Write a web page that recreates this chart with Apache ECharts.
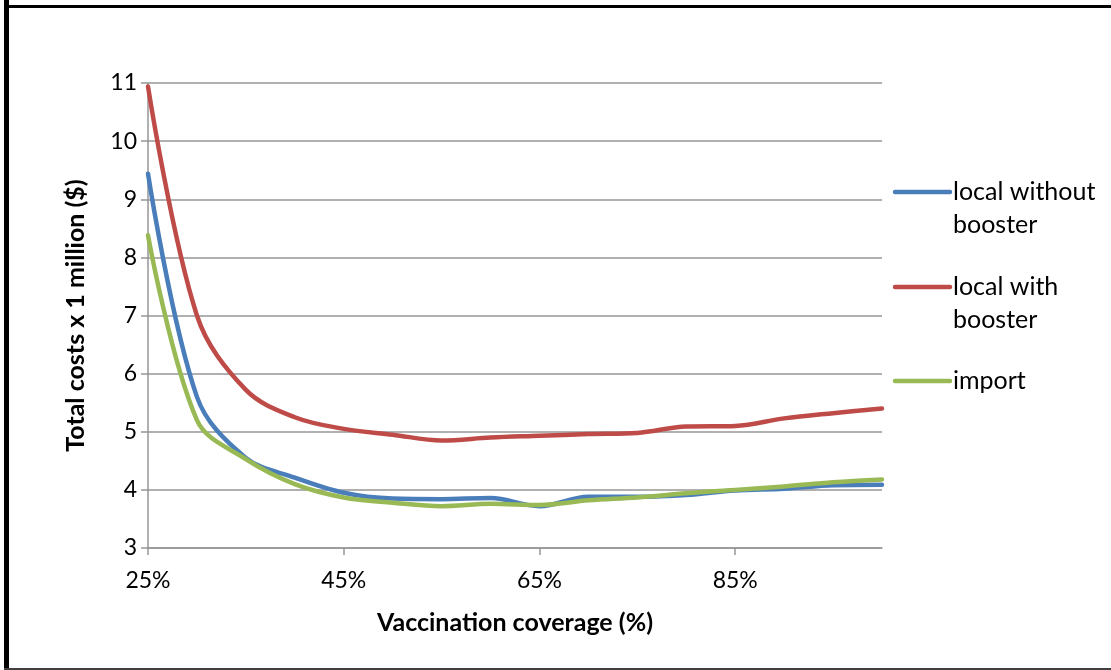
<!DOCTYPE html>
<html>
<head>
<meta charset="utf-8">
<script src="https://cdn.jsdelivr.net/npm/echarts@6/dist/echarts.min.js"></script>
<style>
html,body{margin:0;padding:0;background:#fff;}
#chart{width:1111px;height:670px;}
</style>
</head>
<body>
<div id="chart"></div>
<script>
const categories = ['25%','30%','35%','40%','45%','50%','55%','60%','65%','70%','75%','80%','85%','90%','95%','100%'];
const seriesNames = ['local without booster','local with booster','import'];
const legendLines = [['local without','booster'],['local with','booster'],['import']];
const localWithout = [9.44, 5.6, 4.55, 4.21, 3.95, 3.85, 3.84, 3.86, 3.72, 3.88, 3.88, 3.91, 3.99, 4.02, 4.08, 4.09];
const localWith    = [10.94, 7.0, 5.72, 5.25, 5.05, 4.95, 4.85, 4.90, 4.93, 4.96, 4.98, 5.09, 5.10, 5.23, 5.32, 5.40];
const importVals   = [8.38, 5.2, 4.53, 4.10, 3.87, 3.78, 3.72, 3.76, 3.74, 3.82, 3.87, 3.94, 4.00, 4.06, 4.13, 4.18];
const yTicks = [3,4,5,6,7,8,9,10,11];
const colors = ['#4A7EBB','#BE4B48','#98B954'];

const FONT = 'Lato';
const chart = echarts.init(document.getElementById('chart'), null, {renderer:'canvas'});
const allData = [localWithout, localWith, importVals];

const legendGraphics = [];
const legendY = [192, 287, 381];
legendLines.forEach((lines, i) => {
  legendGraphics.push({
    type:'line', shape:{x1:895, y1:legendY[i], x2:950, y2:legendY[i]},
    style:{stroke:colors[i], lineWidth:4.5, lineCap:'round'}
  });
  lines.forEach((t, j) => {
    legendGraphics.push({
      type:'text', x:953, y:legendY[i] + j*33,
      style:{text:t, font:'25px ' + FONT, fill:'#000', textVerticalAlign:'middle', textAlign:'left'}
    });
  });
});

const option = {
  backgroundColor:'#fff',
  animation:false,
  grid:{left:148, top:83, width:734, height:465, containLabel:false},
  xAxis:{
    type:'category', data:categories, boundaryGap:false,
    axisLine:{lineStyle:{color:'#969696', width:1.5}},
    axisTick:{show:true, interval:3, length:7, lineStyle:{color:'#969696', width:1.5}},
    axisLabel:{interval:3, margin:21, color:'#000', fontFamily:FONT, fontSize:23},
    splitLine:{show:false},
    name:'Vaccination coverage (%)', nameLocation:'middle', nameGap:62,
    nameTextStyle:{fontFamily:FONT, fontWeight:'bold', fontSize:25, color:'#000'}
  },
  yAxis:{
    type:'value', min:yTicks[0], max:yTicks[yTicks.length-1], interval:1,
    axisLine:{show:true, lineStyle:{color:'#969696', width:1.5}},
    axisTick:{show:true, length:7, lineStyle:{color:'#969696', width:1.5}},
    axisLabel:{margin:11, color:'#000', fontFamily:FONT, fontSize:23},
    splitLine:{show:true, lineStyle:{color:'#969696', width:1.5}},
    name:'Total costs x 1 million ($)', nameLocation:'middle', nameGap:60, nameRotate:90,
    nameTextStyle:{fontFamily:FONT, fontWeight:'bold', fontSize:25, color:'#000'}
  },
  series: allData.map((d, i) => ({
    name:seriesNames[i], type:'line', data:d, smooth:0.35, showSymbol:false,
    lineStyle:{color:colors[i], width:4.5, cap:'round', join:'round'},
    itemStyle:{color:colors[i]}, z:2+i
  })),
  graphic: [
    {type:'rect', shape:{x:4, y:0, width:5, height:670}, style:{fill:'#000'}},
    {type:'rect', shape:{x:4, y:5, width:1107, height:3}, style:{fill:'#000'}},
    {type:'rect', shape:{x:4, y:668, width:1107, height:2}, style:{fill:'#404040'}}
  ].concat(legendGraphics)
};
chart.setOption(option);
</script>
</body>
</html>
